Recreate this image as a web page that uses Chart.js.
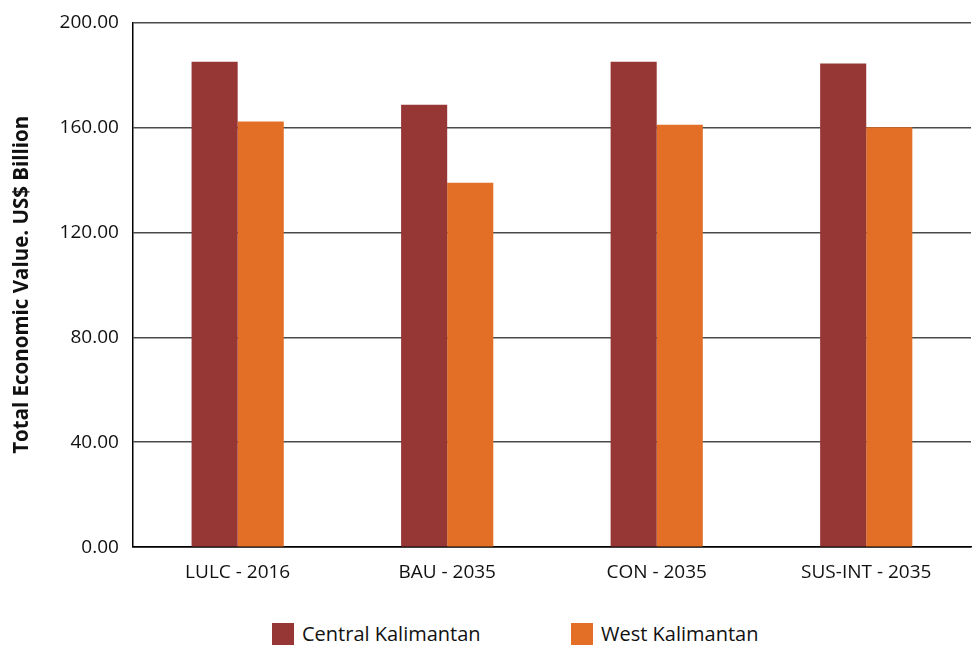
<!DOCTYPE html>
<html>
<head>
<meta charset="utf-8">
<script src="https://cdn.jsdelivr.net/npm/chart.js@4.4.1/dist/chart.umd.min.js"></script>
<style>
  html, body { margin: 0; padding: 0; background: #fff; }
  #wrap { position: relative; width: 972px; height: 645px; overflow: hidden; }
  #cv { position: absolute; left: 0; top: -3px; }
  #legend { position: absolute; left: 0; top: 622px; width: 972px; height: 23px; font-family: "Open Sans", sans-serif; font-size: 20px; color: #111; }
  .item { position: absolute; top: 0; display: flex; align-items: center; height: 23px; }
  .box { width: 22px; height: 22px; margin-right: 8px; }
</style>
</head>
<body>
<div id="wrap">
  <canvas id="cv" width="972" height="603"></canvas>
  <div id="legend"></div>
</div>
<script>
const categories = ["LULC - 2016", "BAU - 2035", "CON - 2035", "SUS-INT - 2035"];
const seriesNames = ["Central Kalimantan", "West Kalimantan"];
const centralKalimantan = [185.0, 168.6, 185.0, 184.3];
const westKalimantan = [162.2, 138.9, 161.0, 160.0];
const yTicks = [0, 40, 80, 120, 160, 200];
const colors = ["#963735", "#E36F26"];

const font = "'Open Sans', sans-serif";

// HTML legend
const legend = document.getElementById('legend');
const legendX = [272, 571];
seriesNames.forEach((n, i) => {
  const d = document.createElement('div');
  d.className = 'item';
  d.style.left = legendX[i] + 'px';
  d.innerHTML = '<span class="box" style="background:' + colors[i] + '"></span><span>' + n + '</span>';
  legend.appendChild(d);
});

new Chart(document.getElementById('cv'), {
  type: 'bar',
  data: {
    labels: categories,
    datasets: [
      { label: seriesNames[0], data: centralKalimantan, backgroundColor: colors[0], categoryPercentage: 0.44, barPercentage: 1.0 },
      { label: seriesNames[1], data: westKalimantan, backgroundColor: colors[1], categoryPercentage: 0.44, barPercentage: 1.0 }
    ]
  },
  options: {
    responsive: false,
    animation: false,
    layout: { padding: { top: 5, right: 1, left: 8, bottom: 2 } },
    plugins: { legend: { display: false }, tooltip: { enabled: false } },
    scales: {
      x: {
        grid: { display: false, drawTicks: false },
        border: { display: true, color: '#000', width: 1.5 },
        ticks: { color: '#111', font: { family: font, size: 19 }, padding: 14 }
      },
      y: {
        min: 0, max: 200,
        afterBuildTicks: (s) => { s.ticks = yTicks.map(v => ({ value: v })); },
        grid: {
          drawTicks: false,
          color: (c) => c.tick && c.tick.value === 0 ? '#000' : '#4a4a4a',
          lineWidth: 1.5
        },
        border: { display: true, color: '#000', width: 1.5 },
        ticks: {
          color: '#111', font: { family: font, size: 19 }, padding: 14,
          callback: (v) => Number(v).toFixed(2)
        },
        title: {
          display: true, text: 'Total Economic Value. US$ Billion',
          color: '#111', font: { family: font, size: 20.5, weight: 'bold' }, padding: { top: 2, bottom: 11 }
        }
      }
    }
  }
});
</script>
</body>
</html>
